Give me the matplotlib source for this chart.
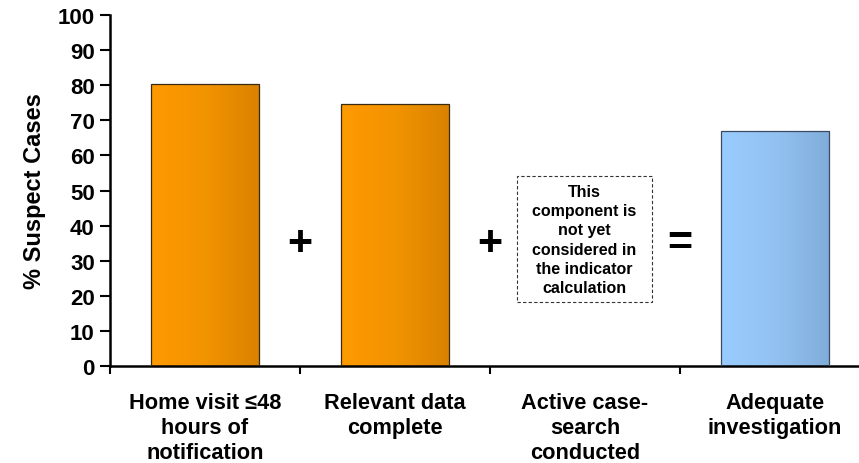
import numpy as np
import matplotlib.pyplot as plt
from matplotlib.colors import LinearSegmentedColormap
from matplotlib.patches import Rectangle

plt.rcParams['font.family'] = ['Liberation Sans', 'DejaVu Sans']
plt.rcParams['font.weight'] = 'bold'

# data
categories = ['Home visit \u226448\nhours of\nnotification',
              'Relevant data\ncomplete',
              'Active case-\nsearch\nconducted',
              'Adequate\ninvestigation']
values = [80.2, 74.6, np.nan, 67.0]
bar_kind = ['component', 'component', 'component', 'result']
operators = ['+', '+', '=']
note = 'This\ncomponent is\nnot yet\nconsidered in\nthe indicator\ncalculation'

gradients = {
    'component': (['#ff9a00', '#f29300', '#d98200'], '#3a2a10'),
    'result': (['#99ccff', '#93c2f2', '#80acd8'], '#3c4a60'),
}


def gradient_bar(ax, bar, colors):
    # fill a bar with a left-to-right gradient
    x0, y0 = bar.get_x(), bar.get_y()
    w, h = bar.get_width(), bar.get_height()
    cmap = LinearSegmentedColormap.from_list('g', colors)
    grad = np.linspace(0, 1, 256).reshape(1, -1)
    im = ax.imshow(grad, cmap=cmap, aspect='auto',
                   extent=(x0, x0 + w, y0, y0 + h), zorder=2)
    im.set_clip_path(bar)


def main():
    fig = plt.figure(figsize=(8.59, 4.64), dpi=100)
    ax = fig.add_axes([110 / 859, 97 / 464, 749 / 859, 351 / 464])

    x = np.arange(len(categories))
    bars = ax.bar(x, values, width=0.57, zorder=3, facecolor='none')
    for b, v, kind in zip(bars, values, bar_kind):
        if np.isnan(v):
            continue
        colors, edge = gradients[kind]
        gradient_bar(ax, b, colors)
        b.set_edgecolor(edge)
        b.set_linewidth(0.9)

    ax.set_yticks(np.arange(0, 101, 10))
    ax.set_yticklabels([str(v) for v in range(0, 101, 10)],
                       fontsize=16, fontweight='bold')
    ax.tick_params(axis='y', width=1.5, length=7, pad=4)

    ax.set_xticks(x)
    ax.set_xticklabels(categories, fontsize=15.7, fontweight='bold',
                       linespacing=1.24)
    ax.tick_params(axis='x', length=0, pad=19)
    ax.set_xticks(np.arange(-0.5, len(categories), 1), minor=True)
    ax.tick_params(axis='x', which='minor', length=6, width=1.5)

    # limits after the ticks, so the ticks don't widen them
    ax.set_xlim(-0.5, -0.5 + 749 / 190)
    ax.set_ylim(0, 100)

    ax.set_ylabel('% Suspect Cases', fontsize=17, fontweight='bold',
                  labelpad=8)

    for s in ['top', 'right']:
        ax.spines[s].set_visible(False)
    for s in ['left', 'bottom']:
        ax.spines[s].set_linewidth(1.8)

    # operators between the bars
    for i, op in enumerate(operators):
        ax.text(i + 0.5, 35, op, ha='center', va='center',
                fontsize=31, fontweight='bold')

    # dashed note box for the component not counted
    ax.add_patch(Rectangle((1.642, 18.2), 0.711, 35.9, facecolor='white',
                           edgecolor='#333333', linestyle=(0, (3, 2)),
                           linewidth=0.8, zorder=3))
    ax.text(1.998, 36.0, note, ha='center', va='center', fontsize=11.5,
            fontweight='bold', linespacing=1.36, zorder=4)

    fig.savefig('out.png', dpi=100)


if __name__ == '__main__':
    main()
